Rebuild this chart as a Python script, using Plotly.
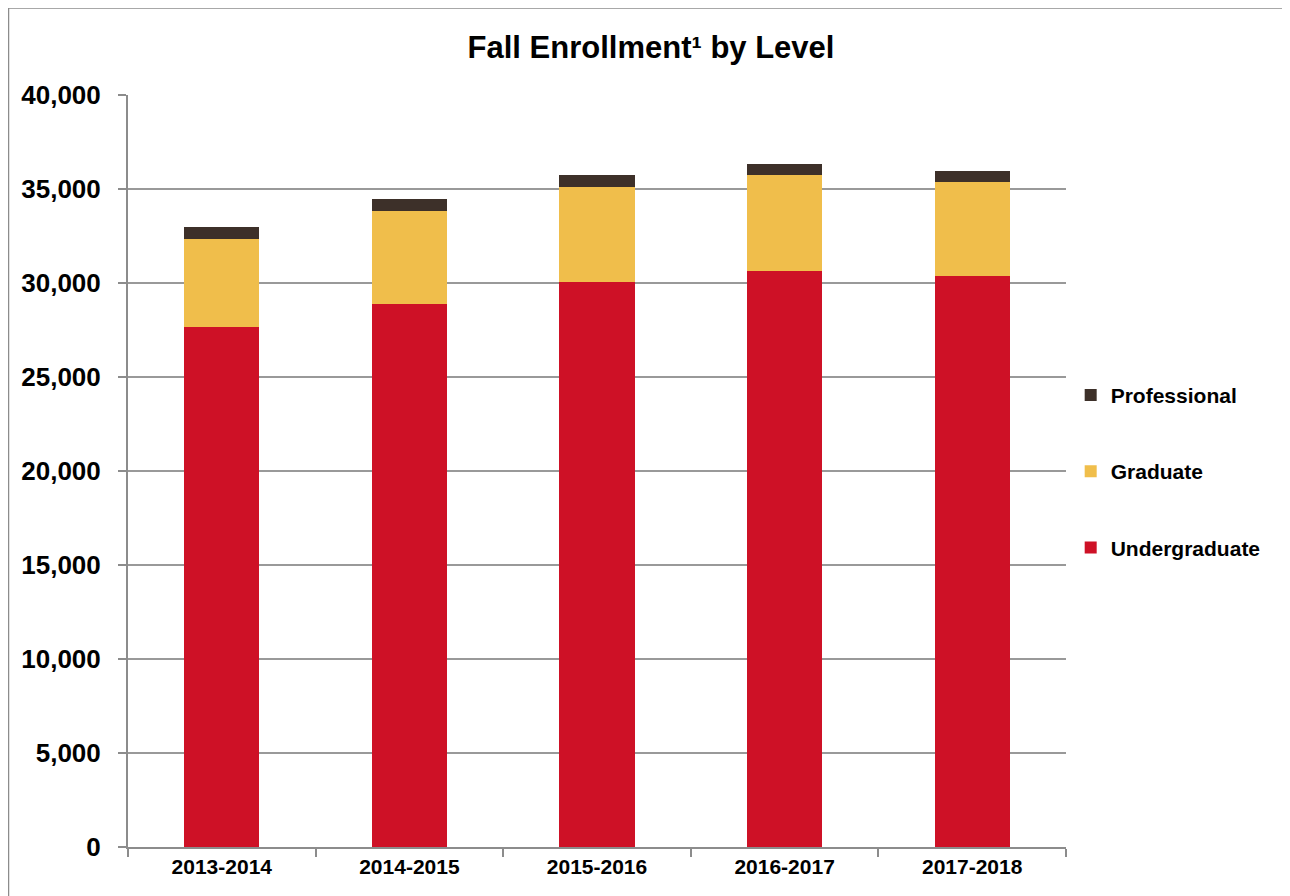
import plotly.graph_objects as go

years = ["2013-2014", "2014-2015", "2015-2016", "2016-2017", "2017-2018"]
undergraduate = [27640, 28870, 30030, 30650, 30370]
graduate = [4700, 4960, 5090, 5090, 5020]
professional = [620, 640, 610, 590, 590]

series_names = ["Undergraduate", "Graduate", "Professional"]
series_values = [undergraduate, graduate, professional]
series_colors = ["#CE1126", "#F0BE4B", "#3D3029"]
series_ranks = [3, 2, 1]

FONT = "Liberation Sans, Arial, sans-serif"

fig = go.Figure()
for name, vals, col, rk in zip(series_names, series_values, series_colors, series_ranks):
    fig.add_trace(go.Bar(
        x=years, y=vals, name=name, marker_color=col,
        marker_line_width=0, legendgroup=name, legendrank=rk,
    ))

# page has an 8px body margin; figure coordinates are page - 8
W, H = 1282, 888
L, R, T, B = 120, 1058, 87, 839
fig.update_layout(
    width=W, height=H,
    barmode="stack", bargap=0.6,
    plot_bgcolor="white", paper_bgcolor="white",
    margin=dict(l=L, r=W - R, t=T, b=H - B),
    font=dict(family=FONT, color="black"),
    title=dict(text="<b>Fall Enrollment¹ by Level</b>",
               xref="container", x=643 / W, xanchor="center",
               yref="container", y=1 - 39 / H, yanchor="middle",
               font=dict(size=31, color="black", family=FONT)),
    legend=dict(x=1.005, y=0.628, xanchor="left", yanchor="top",
                tracegroupgap=46,
                font=dict(size=21, color="black", family=FONT, weight="bold"),
                itemwidth=30, bgcolor="rgba(0,0,0,0)"),
    showlegend=True,
)
fig.update_xaxes(
    showline=True, linecolor="#8c8c8c", linewidth=2,
    ticks="outside", tickson="boundaries", ticklen=8, tickcolor="#8c8c8c", tickwidth=1.5,
    tickfont=dict(size=21, color="black", family=FONT, weight="bold"),
    showgrid=False,
)
fig.update_yaxes(
    range=[0, 40000], dtick=5000, tickformat=",",
    showline=True, linecolor="#8c8c8c", linewidth=2,
    ticks="outside", ticklen=8, tickcolor="#8c8c8c", tickwidth=1.5,
    showgrid=True, gridcolor="#999999", gridwidth=2,
    tickfont=dict(size=26, color="black", family=FONT, weight="bold"),
    ticklabelstandoff=12, zeroline=False,
)
# outer border of the chart area
fig.add_shape(type="rect", xref="paper", yref="paper",
              x0=(0.5 - L) / (R - L), x1=(1277 - L) / (R - L),
              y0=(B - 905) / (B - T), y1=(B - 0) / (B - T),
              line=dict(color="#8c8c8c", width=1.5), fillcolor="rgba(0,0,0,0)", layer="below")

fig.write_html("out.html")
